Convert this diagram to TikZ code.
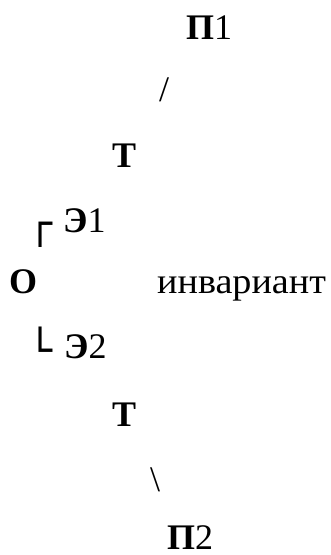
\documentclass[tikz,border=0pt]{standalone}
\usepackage{fontspec}
\setmainfont{Liberation Serif}
\newfontfamily\boxfont{DejaVu Sans}
\begin{document}
\begin{tikzpicture}[x=1pt,y=-1pt,
  lbl/.style={inner sep=0pt, font=\fontsize{36}{40}\selectfont},
  corner/.style={inner sep=0pt, font=\boxfont\fontsize{40}{44}\selectfont}]
\useasboundingbox (0,0) rectangle (330,555);
\node[lbl, anchor=base west] (p1) at (186,39) {\textbf{П}1};
\node[lbl, anchor=center] (s1) at (164,90) {/};
\node[lbl, anchor=base west] (t1) at (112,167) {\textbf{Т}};
\node[corner, anchor=north east] (c1) at (53,222) {┌};
\node[lbl, anchor=base west] (e1) at (63,232) {\textbf{Э}1};
\node[lbl, anchor=base west] (o) at (9,293) {\textbf{О}};
\node[lbl, anchor=base west] (inv) at (157,293) {\scalebox{1.06}[1]{инвариант}};
\node[corner, anchor=north east] (c2) at (53,327) {└};
\node[lbl, anchor=base west] (e2) at (64,358) {\textbf{Э}2};
\node[lbl, anchor=base west] (t2) at (112,426) {\textbf{Т}};
\node[lbl, anchor=center] (s2) at (155,480) {\textbackslash};
\node[lbl, anchor=base west] (p2) at (167,549) {\textbf{П}2};
\end{tikzpicture}
\end{document}
